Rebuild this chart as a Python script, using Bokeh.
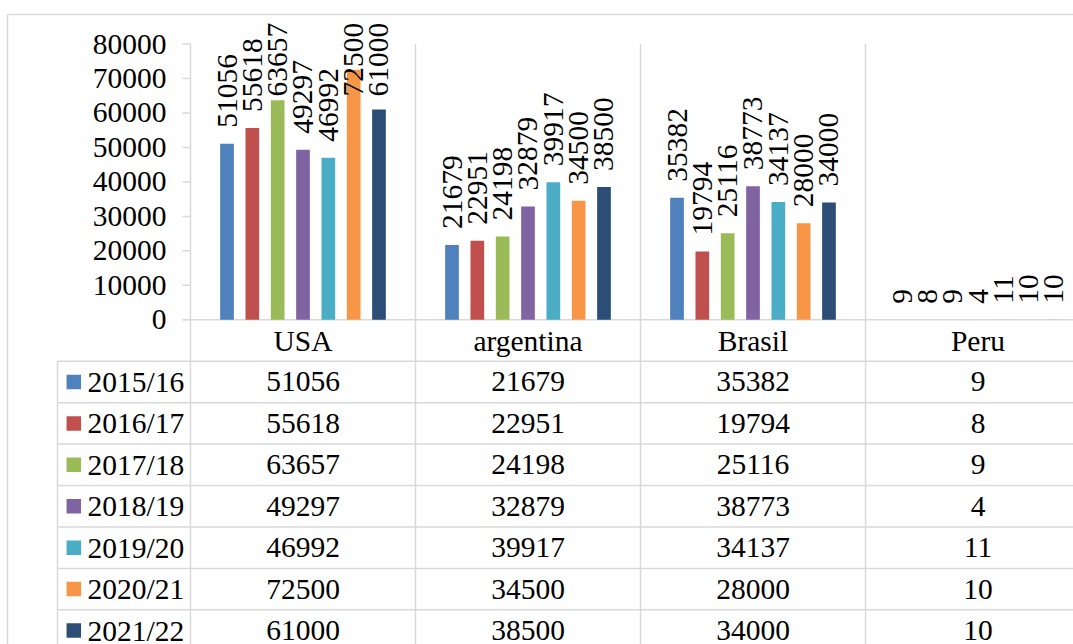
from bokeh.plotting import figure
from bokeh.models import Range1d
from bokeh.embed import file_html
from bokeh.resources import INLINE
from bokeh.core.properties import value

# Production by country and season
countries = ["USA", "argentina", "Brasil", "Peru"]
seasons = ["2015/16", "2016/17", "2017/18", "2018/19", "2019/20", "2020/21", "2021/22"]
usa = [51056, 55618, 63657, 49297, 46992, 72500, 61000]
argentina = [21679, 22951, 24198, 32879, 39917, 34500, 38500]
brasil = [35382, 19794, 25116, 38773, 34137, 28000, 34000]
peru = [9, 8, 9, 4, 11, 10, 10]
y_ticks = [0, 10000, 20000, 30000, 40000, 50000, 60000, 70000, 80000]
colors = ["#4F81BD", "#C0504D", "#9BBB59", "#8064A2", "#4BACC6", "#F79646", "#2C4D75"]

by_country = [usa, argentina, brasil, peru]
# series values per season (one list per season, one entry per country)
by_season = [[c[k] for c in by_country] for k in range(len(seasons))]

# page geometry (pixels)
W, H = 1073, 644
AXIS_X = 190       # value axis column
CAT_W = 225        # width of one category / table column
ZERO_Y = 319.3     # row of value 0 (also top of the data table)
TOP_Y = 43.5       # row of the top tick
ROW_H = 41.43      # table row height
Y_MAX = 80000

PER_PX = Y_MAX / (ZERO_Y - TOP_Y)


def px_to_val(py):
    return (ZERO_Y - py) * PER_PX


FONT = value("Liberation Serif")
FS = "29.5px"
GRID = "#d9d9d9"
LW = 1.5

p = figure(width=W, height=H, output_backend="svg", toolbar_location=None,
           x_range=Range1d(-AXIS_X / CAT_W, (W - AXIS_X) / CAT_W),
           y_range=Range1d(px_to_val(H), px_to_val(0)),
           x_axis_location=None, y_axis_location=None, min_border=0)
p.extra_x_ranges = {"px": Range1d(0, W)}
p.extra_y_ranges = {"px": Range1d(H, 0),
                    "row": Range1d((H - ZERO_Y) / ROW_H, -ZERO_Y / ROW_H)}
p.outline_line_color = None
p.background_fill_color = "white"
p.border_fill_color = "white"
for g in p.grid:
    g.visible = False

# chart area border
p.segment(x0=[7, 7], y0=[14, 14], x1=[W, 7], y1=[14, H],
          x_range_name="px", y_range_name="px", line_color=GRID, line_width=LW)

# value axis line + category separators running down through the table
bounds = list(range(len(countries) + 1))
p.segment(x0=bounds, x1=bounds, y0=Y_MAX, y1=px_to_val(H),
          line_color=GRID, line_width=LW)

# tick marks and tick labels of the value axis
p.segment(x0=182, x1=AXIS_X, y0=y_ticks, y1=y_ticks, x_range_name="px",
          line_color=GRID, line_width=LW)
p.text(x=166, y=y_ticks, text=[str(t) for t in y_ticks], x_range_name="px",
       text_align="right", text_baseline="middle", text_font=FONT,
       text_font_size=FS, text_color="black")

# category axis line
p.segment(x0=182, x1=W, y0=0, y1=0, x_range_name="px",
          line_color=GRID, line_width=LW)

# data table grid
n_rows = len(seasons) + 1
row_lines = list(range(1, n_rows + 1))
p.segment(x0=57, x1=W, y0=row_lines, y1=row_lines, x_range_name="px",
          y_range_name="row", line_color=GRID, line_width=LW)
p.segment(x0=57, x1=57, y0=1, y1=n_rows, x_range_name="px",
          y_range_name="row", line_color=GRID, line_width=LW)

# bars
STEP = 25.33 / CAT_W
BAR_W = 13.7 / CAT_W
LABEL_PAD = 16 * PER_PX
LABEL_CEIL = px_to_val(96)
centers = [i + 0.5 for i in range(len(countries))]

for k, (season, vals, col) in enumerate(zip(seasons, by_season, colors)):
    xs = [c + (k - 3) * STEP for c in centers]
    p.vbar(x=xs, top=vals, bottom=0, width=BAR_W, fill_color=col, line_color=None)
    p.text(x=xs, y=[min(v + LABEL_PAD, LABEL_CEIL) for v in vals],
           text=[str(v) for v in vals], angle=1.5708,
           text_align="left", text_baseline="middle", text_font=FONT,
           text_font_size=FS, text_color="black")

    # table row: legend key, season label, values
    row_y = k + 1.5
    p.scatter(x=[73.3], y=[row_y], marker="square", size=14.5, fill_color=col,
              line_color=None, x_range_name="px", y_range_name="row")
    p.text(x=[87], y=[row_y], text=[season], x_range_name="px", y_range_name="row",
           text_align="left", text_baseline="middle", text_font=FONT,
           text_font_size=FS, text_color="black")
    p.text(x=centers, y=[row_y] * len(centers), text=[str(v) for v in vals],
           y_range_name="row", text_align="center", text_baseline="middle",
           text_font=FONT, text_font_size=FS, text_color="black")

# table header: category names
p.text(x=centers, y=[0.5] * len(centers), text=countries, y_range_name="row",
       text_align="center", text_baseline="middle", text_font=FONT,
       text_font_size=FS, text_color="black")

open("out.html", "w").write(file_html(p, INLINE))
